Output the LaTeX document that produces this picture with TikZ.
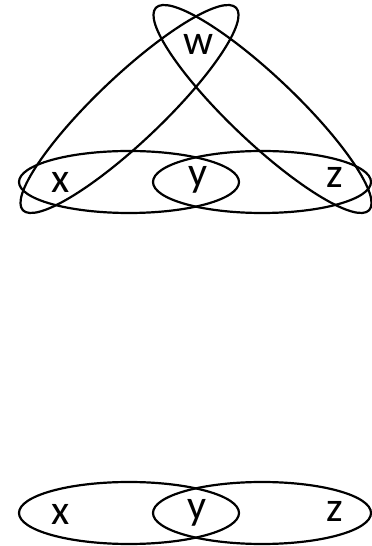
\documentclass[tikz,border=0pt]{standalone}
\usepackage{fontspec}
\setmainfont{Carlito}
\begin{document}
\begin{tikzpicture}[x=1pt,y=1pt,
  ring/.style={draw=black, line width=2.2pt},
  lbl/.style={font=\fontsize{42}{42}\selectfont, anchor=base, inner sep=0pt}]
\useasboundingbox (0,0) rectangle (372,546);
% top diagram
\draw[ring] (129,364) ellipse [x radius=110, y radius=31];
\draw[ring] (262,364) ellipse [x radius=109, y radius=31];
\draw[ring, rotate around={43.5:(129.5,437)}] (129.5,437) ellipse [x radius=147, y radius=33];
\draw[ring, rotate around={-43.5:(262.5,437)}] (262.5,437) ellipse [x radius=147, y radius=33];
\node[lbl] (tx) at (61,353) {x};
\node[lbl] (ty) at (198,359) {y};
\node[lbl] (tz) at (334.5,358) {z};
\node[lbl] (tw) at (199,491) {w};
% bottom diagram
\draw[ring] (129,33) ellipse [x radius=110, y radius=31];
\draw[ring] (262,33) ellipse [x radius=109, y radius=31];
\node[lbl] (bx) at (61,21) {x};
\node[lbl] (by) at (197,27) {y};
\node[lbl] (bz) at (334.5,24) {z};
\end{tikzpicture}
\end{document}
